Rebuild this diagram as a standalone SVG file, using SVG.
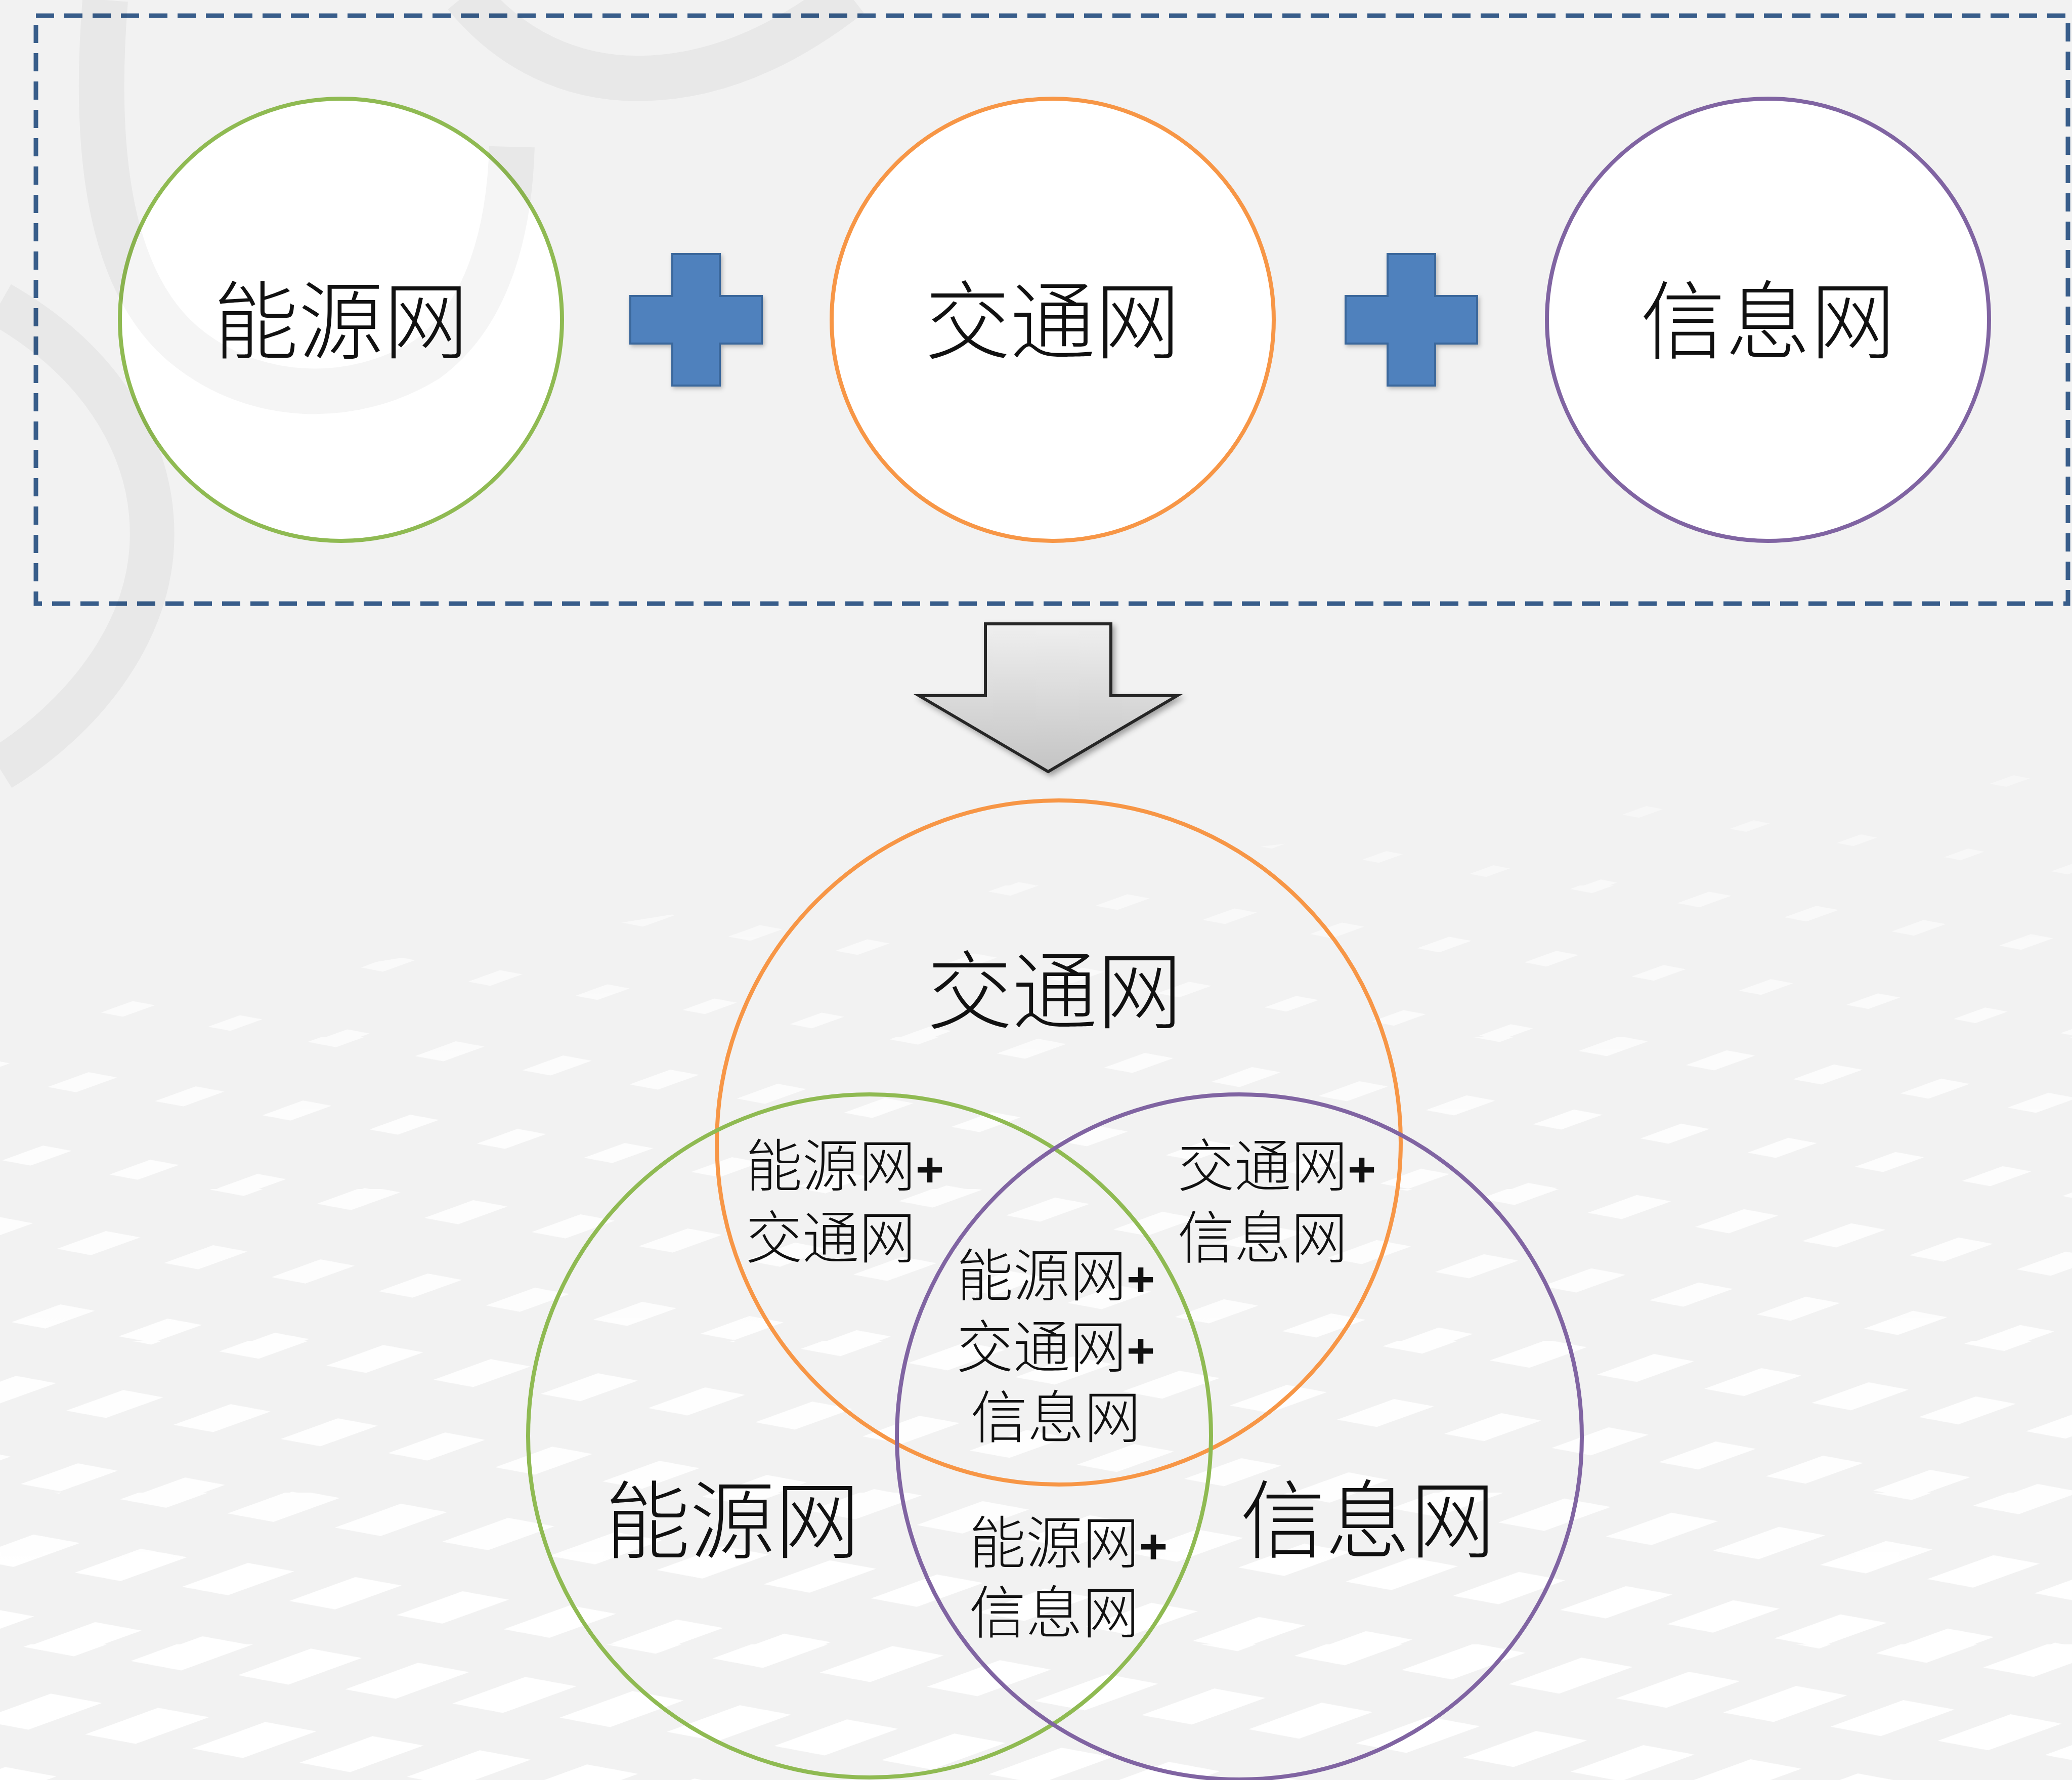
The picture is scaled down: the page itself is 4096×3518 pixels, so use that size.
<svg xmlns="http://www.w3.org/2000/svg" width="4096" height="3518" viewBox="0 0 4096 3518">
<style>
.t { font-family: "Noto Sans CJK SC", "Noto Sans CJK JP", sans-serif; font-weight: 300; fill: #111111; }
.big { font-size: 168px; text-anchor: middle; }
.small { font-size: 112px; }
.mid { text-anchor: middle; }
.pl { font-family: "Liberation Sans", Arial, sans-serif; font-weight: bold; font-size: 96px; }
.node { fill: #ffffff; stroke-width: 8; }
.venn { fill: none; stroke-width: 8; }
.green { stroke: #8fba52; }
.orange { stroke: #f79646; }
.purple { stroke: #8064a2; }
.swirl { fill: none; stroke: #000000; stroke-opacity: 0.04; }
.plus { fill: #4f81bd; stroke: #3b679c; stroke-width: 4; }
.fl { fill: #ffffff; }
</style>
<defs>
  <pattern id="f1" patternUnits="userSpaceOnUse" width="212" height="145" patternTransform="matrix(1,0.132,-0.621,1,0,0)">
    <polygon class="fl" points="72.4,81.9 106,60.5 139.9,62.1 106,83.5"/>
  </pattern>
  <pattern id="f2" patternUnits="userSpaceOnUse" width="212" height="145" patternTransform="matrix(1,0.132,-0.621,1,0,0)">
    <polygon class="fl" points="60.9,85.3 106,56.5 151.6,58.7 106,87.5"/>
  </pattern>
  <pattern id="f3" patternUnits="userSpaceOnUse" width="212" height="145" patternTransform="matrix(1,0.132,-0.621,1,0,0)">
    <polygon class="fl" points="48.3,89.1 106,52.2 164.3,54.9 106,91.8"/>
  </pattern>
  <pattern id="f4" patternUnits="userSpaceOnUse" width="212" height="145" patternTransform="matrix(1,0.132,-0.621,1,0,0)">
    <polygon class="fl" points="36.7,92.5 106,48.2 176,51.5 106,95.8"/>
  </pattern>
  <pattern id="f5" patternUnits="userSpaceOnUse" width="212" height="145" patternTransform="matrix(1,0.132,-0.621,1,0,0)">
    <polygon class="fl" points="25.2,95.9 106,44.3 187.6,48.1 106,99.7"/>
  </pattern>
  <pattern id="f6" patternUnits="userSpaceOnUse" width="212" height="145" patternTransform="matrix(1,0.132,-0.621,1,0,0)">
    <polygon class="fl" points="12.6,99.6 106,40 200.3,44.4 106,104"/>
  </pattern>
  <pattern id="f7" patternUnits="userSpaceOnUse" width="212" height="145" patternTransform="matrix(1,0.132,-0.621,1,0,0)">
    <polygon class="fl" points="3,102.7 106,36.4 210,41.3 106,107.6"/>
  </pattern>
  <linearGradient id="fadeG" gradientUnits="userSpaceOnUse" x1="0" y1="1500" x2="0" y2="3518">
    <stop offset="0" stop-color="#ffffff" stop-opacity="0.35"/>
    <stop offset="0.35" stop-color="#ffffff" stop-opacity="0.8"/>
    <stop offset="1" stop-color="#ffffff" stop-opacity="1"/>
  </linearGradient>
  <mask id="floorMask" maskUnits="userSpaceOnUse" x="0" y="0" width="4096" height="3518">
    <polygon points="0,2020 1500,1780 4096,1500 4096,3518 0,3518" fill="url(#fadeG)"/>
  </mask>
  <linearGradient id="arrowG" x1="0" y1="0" x2="0" y2="1">
    <stop offset="0" stop-color="#efefef"/>
    <stop offset="1" stop-color="#c4c4c4"/>
  </linearGradient>
  <filter id="shadow" x="-20%" y="-20%" width="150%" height="150%">
    <feDropShadow dx="5" dy="6" stdDeviation="6" flood-color="#000000" flood-opacity="0.35"/>
  </filter>
  <filter id="pshadow" x="-20%" y="-20%" width="150%" height="150%">
    <feDropShadow dx="3" dy="4" stdDeviation="4" flood-color="#000000" flood-opacity="0.25"/>
  </filter>
</defs>

<rect id="background" x="0" y="0" width="4096" height="3518" fill="#f2f2f2"/>

<g id="floor" mask="url(#floorMask)">
  <rect x="0" y="1450" width="4096" height="300" fill="url(#f1)"/>
  <rect x="0" y="1750" width="4096" height="300" fill="url(#f2)"/>
  <rect x="0" y="2050" width="4096" height="300" fill="url(#f3)"/>
  <rect x="0" y="2350" width="4096" height="300" fill="url(#f4)"/>
  <rect x="0" y="2650" width="4096" height="300" fill="url(#f5)"/>
  <rect x="0" y="2950" width="4096" height="300" fill="url(#f6)"/>
  <rect x="0" y="3250" width="4096" height="268" fill="url(#f7)"/>
</g>

<g id="group-box">
  <rect x="71" y="31" width="4017" height="1162" fill="none" stroke="#385d8a" stroke-width="9" stroke-dasharray="36 20"/>
</g>

<g id="node-energy">
  <circle class="node green" cx="674" cy="632" r="437"/>
</g>
<g id="node-transport">
  <circle class="node orange" cx="2081" cy="632" r="437"/>
</g>
<g id="node-info">
  <circle class="node purple" cx="3495" cy="632" r="437"/>
</g>

<g id="swirl">
  <path class="swirl" stroke-width="90" d="M 208,0 C 186,274 208,547 361,679 C 503,799 700,799 843,711 C 963,624 1007,460 1012,290"/>
  <path class="swirl" stroke-width="88" d="M 0,600 C 210,720 310,900 300,1080 C 290,1260 160,1420 0,1520"/>
  <path class="swirl" stroke-width="90" d="M 920,-10 C 1010,100 1130,155 1260,155 C 1400,155 1540,100 1680,-10"/>
</g>

<g id="labels-top">
  <text class="t big" x="674" y="696">能源网</text>
  <text class="t big" x="2081" y="696">交通网</text>
  <text class="t big" x="3495" y="696">信息网</text>
</g>

<g id="connectors">
  <path class="plus" filter="url(#pshadow)" d="M1329,502 H1423 V585 H1506 V679 H1423 V762 H1329 V679 H1246 V585 H1329 Z"/>
  <path class="plus" filter="url(#pshadow)" d="M2743,502 H2837 V585 H2920 V679 H2837 V762 H2743 V679 H2660 V585 H2743 Z"/>
  <path id="arrow" filter="url(#shadow)" d="M1948,1233 H2196 V1375 H2327 L2072,1525 L1817,1375 H1948 Z" fill="url(#arrowG)" stroke="#262626" stroke-width="6" stroke-linejoin="miter"/>
</g>

<g id="venn-transport">
  <circle class="venn orange" cx="2093" cy="2258" r="676"/>
  <text class="t big" x="2085" y="2020">交通网</text>
</g>
<g id="venn-energy">
  <circle class="venn green" cx="1719" cy="2838" r="675"/>
  <text class="t big" x="1448" y="3067">能源网</text>
</g>
<g id="venn-info">
  <circle class="venn purple" cx="2450" cy="2840" r="677"/>
  <text class="t big" x="2704" y="3066">信息网</text>
</g>

<g id="venn-energy-transport">
  <text class="t small"><tspan x="1474" y="2345">能源网<tspan class="pl">+</tspan></tspan><tspan x="1474" y="2487">交通网</tspan></text>
</g>
<g id="venn-transport-info">
  <text class="t small"><tspan x="2328" y="2345">交通网<tspan class="pl">+</tspan></tspan><tspan x="2328" y="2487">信息网</tspan></text>
</g>
<g id="venn-all">
  <text class="t small mid"><tspan x="2087" y="2562">能源网<tspan class="pl">+</tspan></tspan><tspan x="2087" y="2703">交通网<tspan class="pl">+</tspan></tspan><tspan x="2087" y="2842">信息网</tspan></text>
</g>
<g id="venn-energy-info">
  <text class="t small"><tspan x="1916" y="3090">能源网<tspan class="pl">+</tspan></tspan><tspan x="1916" y="3228">信息网</tspan></text>
</g>
</svg>
